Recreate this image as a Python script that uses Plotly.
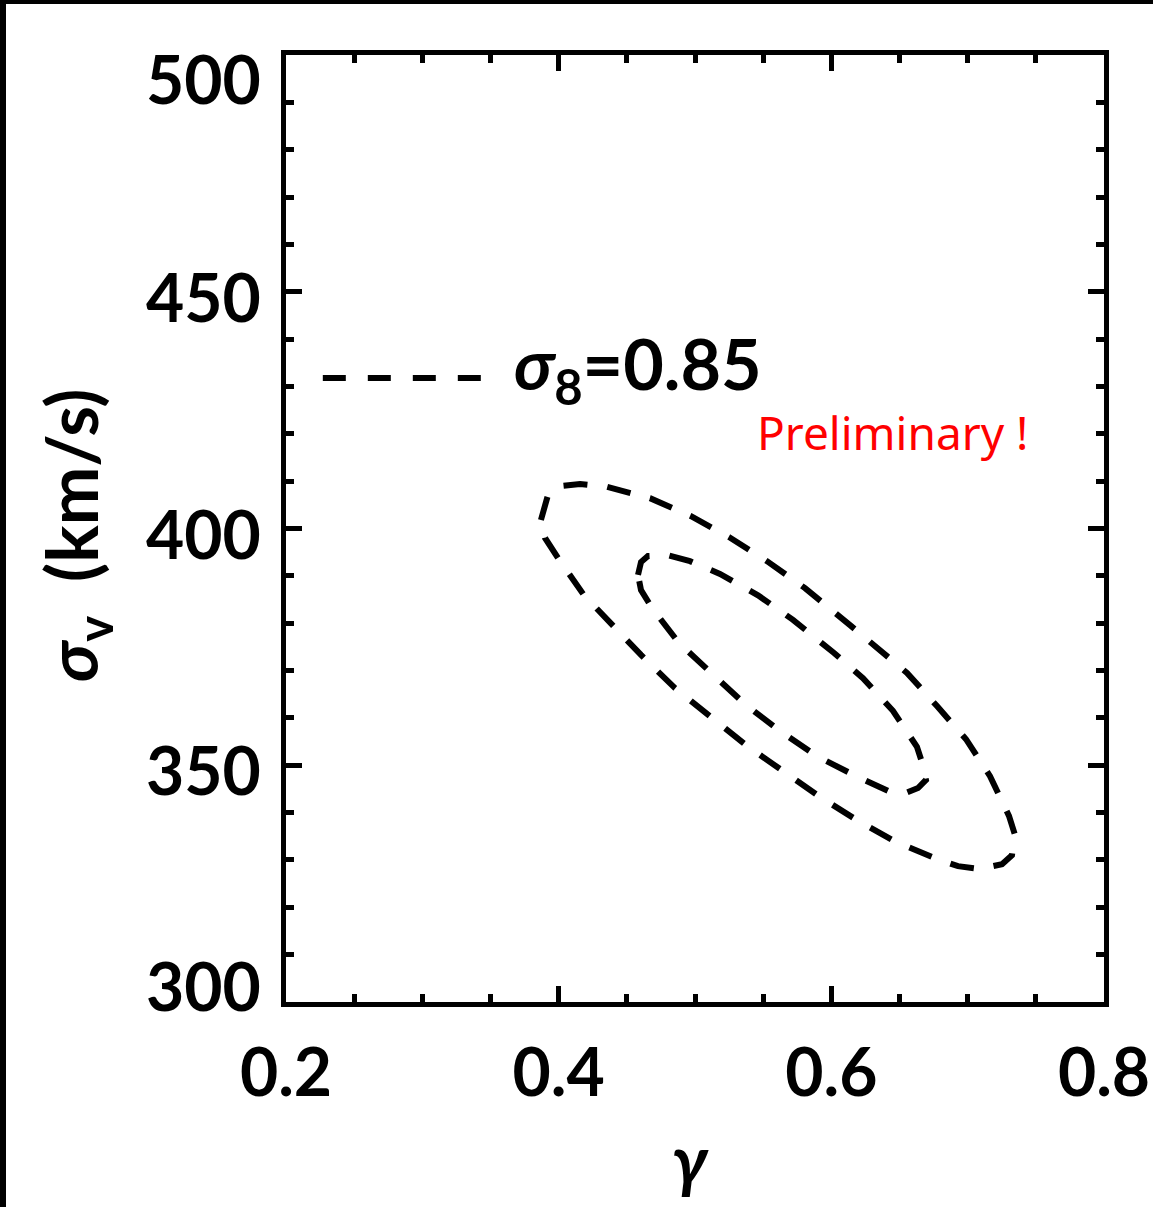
import plotly.graph_objects as go

# ---- data ----
outer_gamma = [0.387, 0.392, 0.4025, 0.4157, 0.4355, 0.467, 0.4971, 0.5249, 0.5528, 0.5807,
               0.6137, 0.6555, 0.6775, 0.6988, 0.7164, 0.7303, 0.7347, 0.7325, 0.7252, 0.709,
               0.6929, 0.6775, 0.6474, 0.6188, 0.5917, 0.5645, 0.5381, 0.5125, 0.4853, 0.4604,
               0.4406, 0.4186, 0.3995, 0.39, 0.387]
outer_sigv = [401.8, 406.9, 409.0, 409.4, 408.8, 406.4, 402.6, 398.2, 393.1, 387.4,
              379.6, 369.5, 362.5, 355.5, 347.7, 339.3, 335.3, 331.0, 329.1, 328.1,
              328.7, 330.2, 333.8, 338.4, 343.3, 348.8, 354.1, 360.0, 366.3, 373.3,
              379.2, 385.9, 393.8, 398.0, 401.8]

inner_gamma = [0.4582, 0.4604, 0.4655, 0.4795, 0.4963, 0.5183, 0.5462, 0.5719, 0.602, 0.6232,
               0.6452, 0.6628, 0.6672, 0.6694, 0.6636, 0.654, 0.6416, 0.6181, 0.5895, 0.5624,
               0.5367, 0.5125, 0.4883, 0.4685, 0.4604, 0.4582]
inner_sigv = [390.2, 392.9, 394.2, 394.4, 393.1, 390.4, 385.9, 380.7, 373.7, 368.4,
              361.5, 353.9, 350.0, 346.9, 345.2, 344.1, 344.6, 347.7, 351.9, 357.2,
              362.9, 369.3, 375.8, 383.2, 387.0, 390.2]

legend_gamma = [0.227, 0.343]
legend_sigv = [431.8, 431.8]
legend_label = "<b><i>σ</i><sub>8</sub>=0.85</b>"
legend_label_pos = (0.366, 433.9)

note_text = "Preliminary !"
note_pos = (0.645, 420.4)

x_tickvals = [0.2, 0.4, 0.6, 0.8]
x_ticktext = ["0.2", "0.4", "0.6", "0.8"]
y_tickvals = [300, 350, 400, 450, 500]
y_ticktext = ["300", "350", "400", "450", "500"]
y_label_down = [-17, 4, 5, 5, 23]   # label offset below its tick, px

x_title = "<b><i>γ</i></b>"
y_title = "<b><i>σ</i><sub>v</sub>  (km/s)</b>"

# ---- layout geometry ----
W, H = 1153, 1207
L, R, T, B = 286, 1104, 55, 1002

def px_x(p):
    return (p - L) / (R - L)

def px_y(p):
    return (B - p) / (B - T)

FONT = "Lato"
dash = "24px,20px"

fig = go.Figure()
fig.add_trace(go.Scatter(x=outer_gamma, y=outer_sigv, mode="lines",
                         line=dict(color="black", width=6, dash=dash), showlegend=False))
fig.add_trace(go.Scatter(x=inner_gamma, y=inner_sigv, mode="lines",
                         line=dict(color="black", width=6, dash=dash), showlegend=False))
fig.add_trace(go.Scatter(x=legend_gamma, y=legend_sigv, mode="lines",
                         line=dict(color="black", width=6, dash="23px,22px"), showlegend=False))

axis_common = dict(
    showgrid=False, zeroline=False, showline=True, linecolor="black", linewidth=5,
    mirror="ticks", ticks="inside", ticklen=16, tickwidth=5, tickcolor="black",
)

fig.update_xaxes(range=[0.2, 0.8], tickvals=x_tickvals, ticktext=x_ticktext,
                 tickfont=dict(family=FONT, size=66, color="black", weight="bold"),
                 ticklabelstandoff=10,
                 minor=dict(ticks="inside", ticklen=8, tickwidth=5, tickcolor="black", dtick=0.05),
                 **axis_common)
fig.update_yaxes(range=[300, 500], tickvals=y_tickvals, showticklabels=False,
                 minor=dict(ticks="inside", ticklen=8, tickwidth=5, tickcolor="black", dtick=10),
                 **axis_common)

annotations = []
for v, t, d in zip(y_tickvals, y_ticktext, y_label_down):
    annotations.append(dict(x=0, xref="paper", y=v, yref="y", text="<b>" + t + "</b>",
                            showarrow=False, xanchor="right", yanchor="middle",
                            xshift=-23, yshift=-d,
                            font=dict(family=FONT, size=66, color="black")))
annotations.append(dict(x=legend_label_pos[0], y=legend_label_pos[1], xref="x", yref="y",
                        text=legend_label, showarrow=False, xanchor="left", yanchor="middle",
                        font=dict(family=FONT, size=70, color="black")))
annotations.append(dict(x=note_pos[0], y=note_pos[1], xref="x", yref="y",
                        text=note_text, showarrow=False, xanchor="center", yanchor="middle",
                        font=dict(family="Noto Sans", size=46, color="red")))
annotations.append(dict(x=px_x(690), y=px_y(1158), xref="paper", yref="paper",
                        text=x_title, showarrow=False, xanchor="center", yanchor="middle",
                        font=dict(family=FONT, size=68, color="black")))
annotations.append(dict(x=px_x(76), y=px_y(535), xref="paper", yref="paper",
                        text=y_title, showarrow=False, xanchor="center", yanchor="middle",
                        textangle=-90, font=dict(family=FONT, size=70, color="black")))

shapes = [
    dict(type="line", xref="paper", yref="paper", x0=px_x(3), x1=px_x(3),
         y0=px_y(0), y1=px_y(H), line=dict(color="black", width=6)),
    dict(type="line", xref="paper", yref="paper", x0=px_x(0), x1=px_x(W),
         y0=px_y(0), y1=px_y(0), line=dict(color="black", width=8)),
]

fig.update_layout(
    width=W, height=H,
    margin=dict(l=L, r=W - R, t=T, b=H - B, autoexpand=False),
    paper_bgcolor="white", plot_bgcolor="white",
    annotations=annotations, shapes=shapes,
    showlegend=False,
)

fig.write_html("out.html", config={"displayModeBar": False},
               post_script="document.body.style.margin='0';document.body.style.overflow='hidden';")
